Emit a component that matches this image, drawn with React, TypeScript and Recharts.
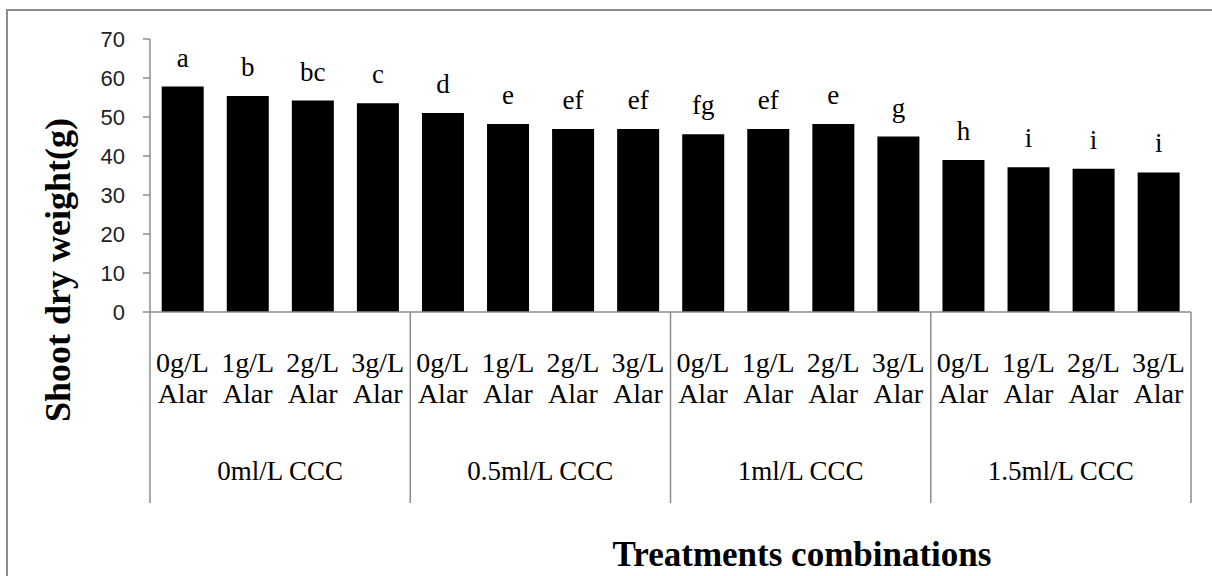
import { BarChart, Bar, XAxis, YAxis, LabelList } from 'recharts'

const alarDoses = ['0g/L', '1g/L', '2g/L', '3g/L']
const cccLevels = ['0ml/L CCC', '0.5ml/L CCC', '1ml/L CCC', '1.5ml/L CCC']
const shootDryWeight = [57.8, 55.4, 54.2, 53.5, 51.0, 48.2, 46.9, 46.9, 45.6, 46.9, 48.2, 45.0, 39.0, 37.1, 36.7, 35.8]
const letters = ['a', 'b', 'bc', 'c', 'd', 'e', 'ef', 'ef', 'fg', 'ef', 'e', 'g', 'h', 'i', 'i', 'i']
const yTicks = [0, 10, 20, 30, 40, 50, 60, 70]

const WIDTH = 1212
const HEIGHT = 576
const MARGIN = { top: 39, right: 21, bottom: 0, left: 0 }
const Y_AXIS_W = 150
const BAND = (WIDTH - MARGIN.left - MARGIN.right - Y_AXIS_W) / shootDryWeight.length

const SERIF = "'Liberation Serif', 'Times New Roman', serif"
const SANS = "'Liberation Sans', Arial, sans-serif"
const GRID = '#8c8c8c'

const data = shootDryWeight.map((w, i) => ({
    key: `${cccLevels[Math.floor(i / 4)]} ${alarDoses[i % 4]}`,
    dose: alarDoses[i % 4],
    ccc: cccLevels[Math.floor(i / 4)],
    weight: w,
    letter: letters[i],
}))

// two-line dose label, plus group label and separators for each CCC block
function TreatmentTick(props: any) {
    const { x, y, index } = props
    const row = data[index]
    if (!row) return null
    const half = BAND / 2
    return (
        <g>
            <text x={x} y={y + 60} textAnchor="middle" fontFamily={SERIF} fontSize={28} fill="#000">
                {row.dose}
            </text>
            <text x={x} y={y + 91} textAnchor="middle" fontFamily={SERIF} fontSize={28} fill="#000">
                Alar
            </text>
            {index % 4 === 0 && (
                <>
                    <line x1={x - half} x2={x - half} y1={y} y2={y + 191} stroke={GRID} strokeWidth={1.5} />
                    <text x={x - half + BAND * 2} y={y + 168} textAnchor="middle" fontFamily={SERIF} fontSize={27} fill="#000">
                        {row.ccc}
                    </text>
                </>
            )}
            {index === data.length - 1 && (
                <line x1={x + half} x2={x + half} y1={y} y2={y + 191} stroke={GRID} strokeWidth={1.5} />
            )}
        </g>
    )
}

export default function App() {
    return (
        <div style={{ position: 'absolute', left: 0, top: 0, width: WIDTH, height: HEIGHT, background: '#fff', overflow: 'hidden' }}>
            <div
                style={{
                    position: 'absolute',
                    left: 6,
                    top: 9,
                    width: WIDTH,
                    height: HEIGHT,
                    borderLeft: `2px solid ${GRID}`,
                    borderTop: `2px solid ${GRID}`,
                }}
            />
            <div style={{ position: 'absolute', left: 0, top: 0 }}>
                <BarChart width={WIDTH} height={HEIGHT} data={data} margin={MARGIN} barCategoryGap="18%">
                    <YAxis
                        width={Y_AXIS_W}
                        domain={[0, 70]}
                        ticks={yTicks}
                        interval={0}
                        axisLine={{ stroke: GRID, strokeWidth: 1.5 }}
                        tickLine={{ stroke: GRID, strokeWidth: 1.5 }}
                        tickSize={7}
                        tickMargin={18}
                        tick={{ fontSize: 22, fontFamily: SANS, fill: '#222' }}
                        label={{
                            content: () => (
                                <text
                                    transform="translate(70, 270) rotate(-90)"
                                    textAnchor="middle"
                                    fontFamily={SERIF}
                                    fontWeight="bold"
                                    fontSize={36}
                                    fill="#000"
                                >
                                    Shoot dry weight(g)
                                </text>
                            ),
                        }}
                    />
                    <XAxis
                        dataKey="key"
                        height={264}
                        interval={0}
                        tickLine={false}
                        tickSize={0}
                        tickMargin={0}
                        axisLine={{ stroke: GRID, strokeWidth: 1.5 }}
                        tick={(p: any) => <TreatmentTick {...p} />}
                        label={{
                            content: () => (
                                <text x={802} y={566} textAnchor="middle" fontFamily={SERIF} fontWeight="bold" fontSize={35} fill="#000">
                                    Treatments combinations
                                </text>
                            ),
                        }}
                    />
                    <Bar dataKey="weight" fill="#000" isAnimationActive={false}>
                        <LabelList dataKey="letter" position="top" offset={20} fontFamily={SERIF} fontSize={27} fill="#000" />
                    </Bar>
                </BarChart>
            </div>
        </div>
    )
}
